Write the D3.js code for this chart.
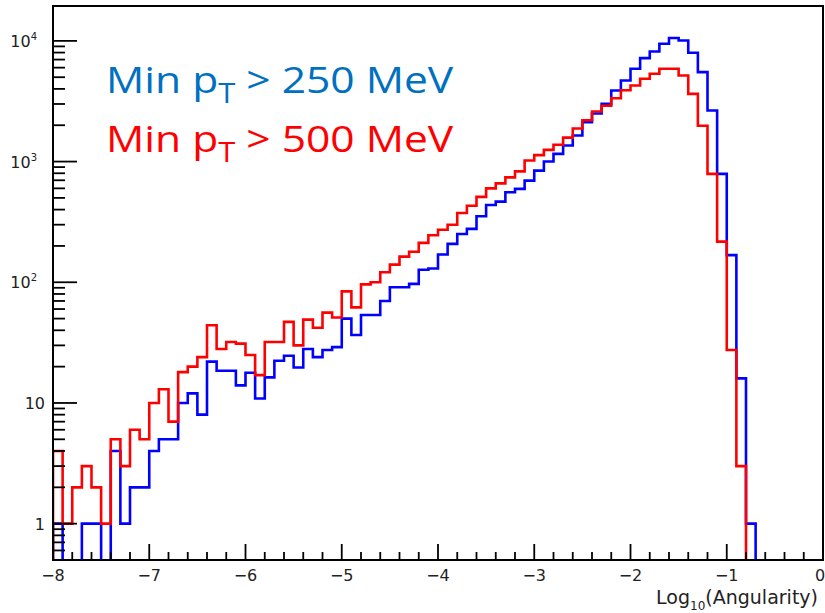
<!DOCTYPE html>
<html>
<head>
<meta charset="utf-8">
<script src="https://cdn.jsdelivr.net/npm/d3@7"></script>
<style>
  html, body { margin: 0; padding: 0; background: #fff; }
  svg { display: block; }
</style>
</head>
<body>
<div id="chart"></div>
<script>
// ---------------- DATA ----------------
// Histogram: 80 bins of Log10(Angularity) from -8 to 0 (bin width 0.1)
const xRange = [-8, 0];
const nBins = 80;
const binLow = d3.range(nBins).map(i => -8 + i * 0.1);

// Min pT > 250 MeV (blue)
const blueCounts = [
  1, 0, 0, 1, 1, 0, 4, 1, 2, 2,
  4, 5, 5, 10, 12, 8, 22, 18.5, 18.5, 14,
  17.8, 10.9, 16.3, 22.4, 24.6, 19.7, 28, 24, 27.5, 29,
  50, 36.6, 53.6, 53.6, 70, 91, 91, 97, 127, 130,
  170, 208, 251, 277, 352, 437, 466, 557, 594, 695,
  842, 1000, 1158, 1358, 1643, 2122, 2500, 3009, 3880, 4700,
  5870, 7200, 8170, 9460, 10550, 10080, 7970, 5510, 2650, 791,
  168, 16, 1, 0, 0, 0, 0, 0, 0, 0
];
// Min pT > 500 MeV (red)
const redCounts = [
  4, 1, 2, 3, 2, 1, 5, 3, 6, 5,
  10, 13, 7, 18, 20, 24, 44, 28, 32, 31,
  25, 17, 32, 32, 47, 30, 49, 42, 56, 51,
  84, 62, 96, 100, 121, 140, 163, 179, 212, 245,
  272, 300, 375, 430, 510, 600, 660, 740, 830, 1020,
  1130, 1250, 1380, 1580, 1880, 2200, 2600, 2900, 3350, 3900,
  4270, 4850, 5335, 5870, 5870, 5165, 3640, 1980, 791, 217,
  27.5, 3, 0, 0, 0, 0, 0, 0, 0, 0
];

const seriesNames = ["Min p", "T", " > 250 MeV", " > 500 MeV"];
const xTickMajor = [-8, -7, -6, -5, -4, -3, -2, -1, 0];
const yTickMajor = [1, 10, 100, 1000, 10000];
const yTickLabels = ["1", "10", "10", "10", "10"];
const yTickExp = ["", "", "2", "3", "4"];
const yDomain = [0.5, 19450];

// ---------------- LAYOUT ----------------
const W = 825, H = 613;
const frame = { left: 53, right: 823, top: 6, bottom: 560 };

const svg = d3.select("#chart").append("svg")
  .attr("width", W).attr("height", H);

const x = d3.scaleLinear().domain(xRange).range([frame.left, frame.right]);
const y = d3.scaleLog().domain(yDomain).range([frame.bottom, frame.top]);

svg.append("defs").append("clipPath").attr("id", "clip")
  .append("rect")
  .attr("x", frame.left).attr("y", frame.top)
  .attr("width", frame.right - frame.left)
  .attr("height", frame.bottom - frame.top);

// histogram paths
function histPoints(counts) {
  const pts = [[x(xRange[0]), frame.bottom]];
  counts.forEach((v, i) => {
    const yy = v > yDomain[0] ? y(v) : frame.bottom + 2;
    pts.push([x(binLow[i]), yy]);
    pts.push([x(binLow[i] + 0.1), yy]);
  });
  pts.push([x(xRange[1]), frame.bottom]);
  return pts;
}
const line = d3.line();
const gH = svg.append("g").attr("clip-path", "url(#clip)");
gH.append("path").attr("d", line(histPoints(blueCounts)))
  .attr("fill", "none").attr("stroke", "#0000ff").attr("stroke-width", 2.6)
  .attr("stroke-linejoin", "miter");
gH.append("path").attr("d", line(histPoints(redCounts)))
  .attr("fill", "none").attr("stroke", "#ff0000").attr("stroke-width", 2.6)
  .attr("stroke-linejoin", "miter");

// frame
svg.append("rect")
  .attr("x", frame.left).attr("y", frame.top)
  .attr("width", frame.right - frame.left)
  .attr("height", frame.bottom - frame.top)
  .attr("fill", "none").attr("stroke", "#000").attr("stroke-width", 2);

// x axis ticks
const xMinor = d3.range(-8, 0.001, 0.2);
const gx = svg.append("g");
xMinor.forEach(v => {
  const isMajor = Math.abs(v - Math.round(v)) < 1e-6;
  gx.append("line")
    .attr("x1", x(v)).attr("x2", x(v))
    .attr("y1", frame.bottom).attr("y2", frame.bottom - (isMajor ? 16 : 8))
    .attr("stroke", "#000").attr("stroke-width", 1.8);
});
xTickMajor.forEach(v => {
  gx.append("text")
    .attr("x", v === 0 ? x(v) - 3 : x(v)).attr("y", 581)
    .attr("text-anchor", "middle")
    .attr("font-family", "DejaVu Sans").attr("font-size", 16)
    .attr("fill", "#222")
    .text(v < 0 ? "\u2212" + Math.abs(v) : String(v));
});

// y axis ticks
const gy = svg.append("g");
const yMinor = [];
[0.1, 1, 10, 100, 1000, 10000].forEach(d => {
  for (let k = 1; k <= 9; k++) {
    const v = d * k;
    if (v >= yDomain[0] && v <= yDomain[1]) yMinor.push(v);
  }
});
yMinor.forEach(v => {
  const isMajor = Math.abs(Math.log10(v) - Math.round(Math.log10(v))) < 1e-6;
  gy.append("line")
    .attr("x1", frame.left).attr("x2", frame.left + (isMajor ? 24 : 12))
    .attr("y1", y(v)).attr("y2", y(v))
    .attr("stroke", "#000").attr("stroke-width", 1.8);
});
yTickMajor.forEach((v, i) => {
  const t = gy.append("text")
    .attr("x", yTickExp[i] ? 37 : 45).attr("y", y(v) + 6)
    .attr("text-anchor", "end")
    .attr("font-family", "DejaVu Sans").attr("font-size", 16)
    .attr("fill", "#222");
  t.append("tspan").text(yTickLabels[i]);
  if (yTickExp[i]) {
    t.append("tspan").attr("dy", -7).attr("font-size", 10).text(yTickExp[i]);
  }
});

// x axis title
const title = svg.append("text")
  .attr("x", 818).attr("y", 604)
  .attr("text-anchor", "end")
  .attr("font-family", "DejaVu Sans").attr("font-size", 19)
  .attr("fill", "#222");
title.append("tspan").text("Log");
title.append("tspan").attr("dy", 6).attr("font-size", 12).text("10");
title.append("tspan").attr("dy", -6).text("(Angularity)");

// legend text (horizontally stretched like the reference)
function legendLine(yBase, color, rest) {
  const t = svg.append("text")
    .attr("transform", `translate(106,${yBase}) scale(1.15,1)`)
    .attr("x", 0).attr("y", 0)
    .attr("font-family", "Open Sans").attr("font-size", 37)
    .attr("fill", color);
  t.append("tspan").text(seriesNames[0]);
  t.append("tspan").attr("dy", 10).attr("font-size", 27).text(seriesNames[1]);
  t.append("tspan").attr("dy", -10).text(rest);
}
legendLine(93, "#0070c0", seriesNames[2]);
legendLine(152, "#ff0000", seriesNames[3]);
</script>
</body>
</html>
